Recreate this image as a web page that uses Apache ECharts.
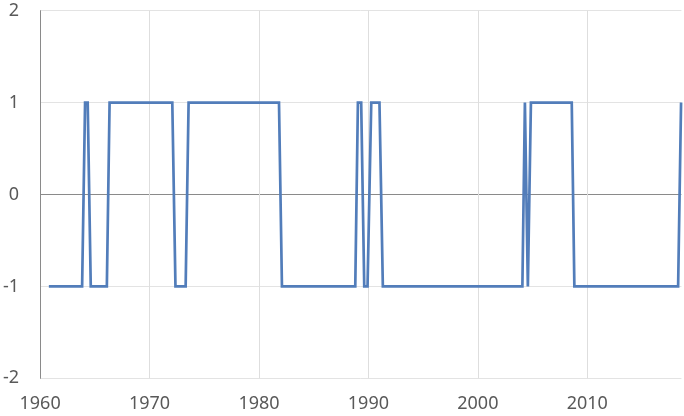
<!DOCTYPE html>
<html>
<head>
<meta charset="utf-8">
<script src="https://cdn.jsdelivr.net/npm/echarts@6/dist/echarts.min.js"></script>
<style>
html,body{margin:0;padding:0;background:#fff;}
#chart{width:684px;height:416px;}
</style>
</head>
<body>
<div id="chart"></div>
<script>
// Corner points of the step-like series (year, value)
const years = [1960.8, 1963.84, 1964.11, 1964.35, 1964.63, 1966.1, 1966.35, 1972.08, 1972.37,
  1973.3, 1973.57, 1981.83, 1982.1, 1988.8, 1989.04, 1989.34, 1989.62, 1989.92, 1990.26,
  1991.01, 1991.32, 2004.07, 2004.3, 2004.57, 2004.85, 2008.58, 2008.82, 2018.3, 2018.57];
const values = [-1, -1, 1, 1, -1, -1, 1, 1, -1,
  -1, 1, 1, -1, -1, 1, 1, -1, -1, 1,
  1, -1, -1, 1, -1, 1, 1, -1, -1, 1];
const xMin = 1960, xMax = 2018.6;
const yTicks = [-2, -1, 0, 1, 2];

const chart = echarts.init(document.getElementById('chart'), null, {renderer: 'canvas'});
const font = '"Noto Sans", "Open Sans", sans-serif';
chart.setOption({
  animation: false,
  backgroundColor: '#ffffff',
  grid: {left: 39.7, top: 10.7, right: 2.6, bottom: 37.7, containLabel: false},
  xAxis: {
    type: 'value',
    min: xMin,
    max: xMax,
    interval: 10,
    axisLine: {show: false},
    axisTick: {show: false},
    axisLabel: {color: '#595959', fontFamily: font, fontSize: 18, margin: 17, showMaxLabel: false,
      formatter: v => (v % 10 === 0 ? String(v) : '')},
    splitLine: {show: true, showMaxLine: false, lineStyle: {color: '#dedede', width: 1}}
  },
  yAxis: {
    type: 'value',
    min: yTicks[0],
    max: yTicks[yTicks.length - 1],
    interval: 1,
    axisLine: {show: true, lineStyle: {color: '#8a8a8a', width: 1}},
    axisTick: {show: false},
    axisLabel: {color: '#595959', fontFamily: font, fontSize: 18, margin: 21},
    splitLine: {show: true, lineStyle: {color: ['#e3e3e3', '#e3e3e3', '#8a8a8a', '#e3e3e3', '#e3e3e3'], width: 1}}
  },
  series: [{
    type: 'line',
    data: years.map((y, i) => [y, values[i]]),
    showSymbol: false,
    symbol: 'none',
    lineStyle: {color: '#527dba', width: 2.7, join: 'miter'},
    clip: false
  }]
});
</script>
</body>
</html>
